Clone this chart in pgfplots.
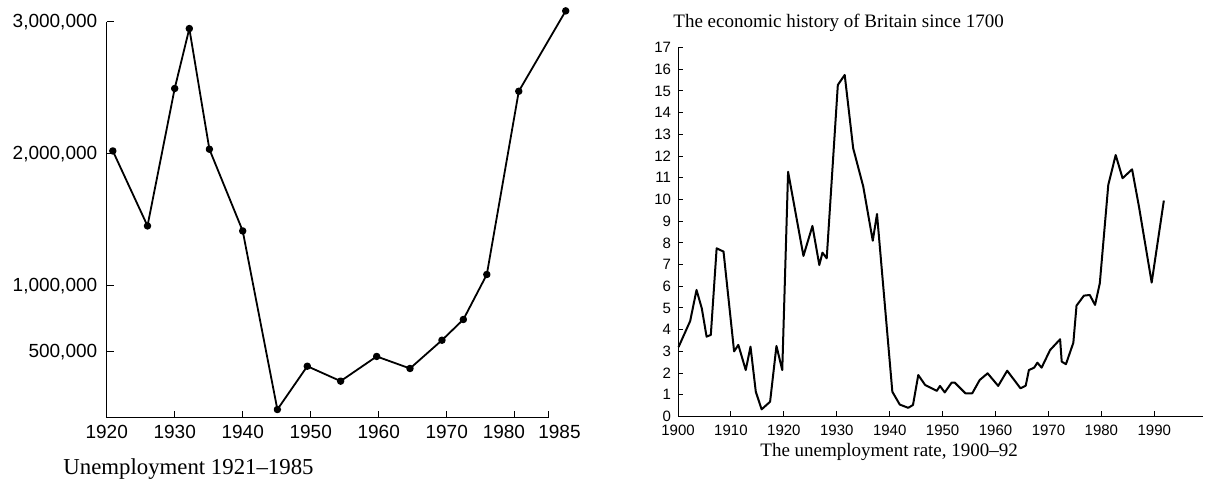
\documentclass[border=0pt]{standalone}
\usepackage{fontspec}
\setmainfont{Liberation Serif}
\newfontfamily\sansf{Liberation Sans}
\usepackage{pgfplots}
\pgfplotsset{compat=1.18}
\begin{document}
\begin{tikzpicture}[x=1pt,y=1pt]
\useasboundingbox (0,0) rectangle (605,240.5);
% ---------- Left chart ----------
\begin{axis}[
  at={(53.35pt,31.65pt)}, anchor=south west,
  scale only axis, width=221pt, height=198pt,
  xmin=1920, xmax=1985, ymin=0, ymax=3000000,
  axis lines*=left, axis line style={line width=0.6pt,-},
  clip=false,
  xtick={1920,1930,1940,1950,1960,1970,1980,1985},
  xticklabels={1920,1930,1940,1950,1960,1970,{\hspace*{-5.4pt}1980\hspace*{5.4pt}},{\hspace*{5.4pt}1985\hspace*{-5.4pt}}},
  ytick={500000,1000000,2000000,3000000},
  yticklabels={{500,000},{1,000,000},{2,000,000},{3,000,000}},
  scaled y ticks=false,
  /pgf/number format/1000 sep={},
  /pgf/number format/assume math mode=true,
  tick align=inside, major tick length=3.5pt,
  tick style={line width=0.5pt, black},
  ticklabel style={font=\sansf\fontsize{9.5}{9.5}\selectfont},
  y tick label style={xshift=-1.2pt},
]
\addplot[black, line width=0.9pt, line join=round, mark=*, mark size=1.4pt] coordinates {
(1920.9,2021000) (1926.0,1453000) (1930.0,2494000) (1932.15,2948000)
(1935.1,2034000) (1940.0,1415000) (1945.1,62000) (1949.5,390000)
(1954.4,277000) (1959.7,464000) (1964.6,373000) (1969.3,587000)
(1972.45,744000) (1975.9,1085000) (1980.6,2473000) (1987.5,3082000)
};
\end{axis}
% ---------- Right chart ----------
\begin{axis}[
  at={(339pt,32.25pt)}, anchor=south west,
  scale only axis, width=262.5pt, height=184.45pt,
  xmin=1900, xmax=1999.2, ymin=0, ymax=17,
  axis lines*=left, axis line style={line width=0.5pt,-},
  clip=false,
  xtick={1900,1910,...,1990},
  ytick={0,1,...,17},
  /pgf/number format/1000 sep={},
  /pgf/number format/assume math mode=true,
  tick align=inside, major tick length=2.5pt,
  tick style={line width=0.5pt, black},
  ticklabel style={font=\sansf\fontsize{7.5}{7.5}\selectfont},
  x tick label style={yshift=-0.5pt},
]
\addplot[black, line width=1pt, line join=round, mark=none] coordinates {
(1900.1,3.2) (1902.3,4.4) (1903.5,5.83) (1904.5,4.98) (1905.4,3.68)
(1906.2,3.76) (1907.3,7.75) (1908.6,7.6) (1910.6,3.0) (1911.4,3.3)
(1912.8,2.14) (1913.7,3.22) (1914.7,1.14) (1915.8,0.33) (1917.4,0.68)
(1918.6,3.25) (1919.7,2.14) (1920.8,11.28) (1923.7,7.40) (1925.4,8.78)
(1926.7,6.98) (1927.3,7.55) (1928.1,7.29) (1930.2,15.28) (1931.5,15.74)
(1933.1,12.36) (1935.0,10.6) (1936.8,8.1) (1937.6,9.33) (1940.5,1.14)
(1941.9,0.55) (1943.5,0.4) (1944.4,0.53) (1945.4,1.91) (1946.7,1.45)
(1948.9,1.18) (1949.5,1.41) (1950.4,1.11) (1951.7,1.56) (1952.3,1.56)
(1954.3,1.07) (1955.6,1.07) (1957.0,1.68) (1958.5,1.99) (1960.5,1.41)
(1962.2,2.11) (1964.7,1.30) (1965.7,1.42) (1966.3,2.14) (1967.3,2.25)
(1967.9,2.48) (1968.7,2.25) (1970.3,3.06) (1972.2,3.56) (1972.5,2.53)
(1973.3,2.41) (1974.7,3.40) (1975.3,5.11) (1976.7,5.57) (1977.8,5.6)
(1978.8,5.14) (1979.7,6.14) (1981.3,10.67) (1982.7,12.05) (1984.0,10.98)
(1985.8,11.39) (1987.1,9.67) (1989.5,6.17) (1991.8,9.95)
};
\end{axis}
% ---------- Captions ----------
\node[anchor=base west, inner sep=0pt, font=\fontsize{11.4}{11.4}\selectfont] at (31.5,3) {Unemployment 1921--1985};
\node[anchor=base west, inner sep=0pt, font=\fontsize{9.5}{9.5}\selectfont] at (336.5,226.6) {The economic history of Britain since 1700};
\node[anchor=base west, inner sep=0pt, font=\fontsize{9.5}{9.5}\selectfont] at (380,12.3) {The unemployment rate, 1900--92};
\end{tikzpicture}
\end{document}
